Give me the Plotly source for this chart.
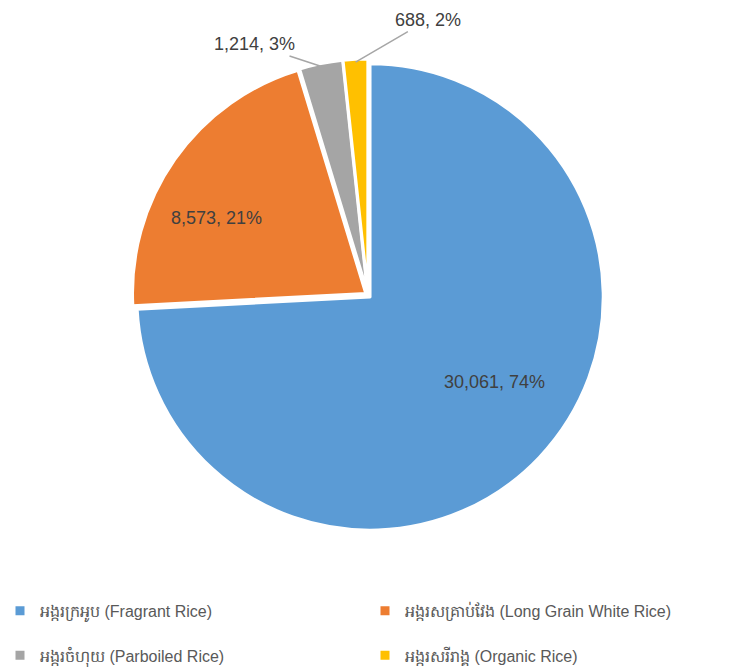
import math
import plotly.graph_objects as go

categories = [
    "អង្ករក្រអូប (Fragrant Rice)",
    "អង្ករសគ្រាប់វែង (Long Grain White Rice)",
    "អង្ករចំហុយ (Parboiled Rice)",
    "អង្ករសរីរាង្គ (Organic Rice)",
]
values = [30061, 8573, 1214, 688]
colors = ["#5B9BD5", "#ED7D31", "#A5A5A5", "#FFC000"]

W, H = 749, 671
CX, CY, R = 368, 295, 236  # pie placement in pixels

legend_labels = [c + ("<br> " if i < 2 else "") for i, c in enumerate(categories)]

fig = go.Figure(go.Pie(
    labels=legend_labels,
    values=values,
    sort=False,
    direction="clockwise",
    rotation=0,
    pull=[0.012] * len(values),
    marker=dict(colors=colors, line=dict(color="white", width=3)),
    textinfo="none",
    hoverinfo="label+value+percent",
    domain=dict(x=[(CX - R) / W, (CX + R) / W], y=[(H - CY - R) / H, (H - CY + R) / H]),
))

total = sum(values)
cum = 0
annotations = []
Rv = R / 1.012
inside_pos = {0: (0.66, math.radians(124.5)), 1: (0.73, math.radians(297))}
offsets = {2: (-67, -22), 3: (72, -42)}
for i, v in enumerate(values):
    mid = (cum + v / 2) / total * 2 * math.pi
    cum += v
    pct = round(v / total * 100)
    txt = f"{v:,}, {pct}%"
    if i < 2:
        frac, ang = inside_pos[i]
        rr = frac * Rv
        px = CX + rr * math.sin(ang)
        py = CY - rr * math.cos(ang)
        annotations.append(dict(x=px / W, y=1 - py / H, xref="paper", yref="paper",
                                xanchor="center", yanchor="middle",
                                text=txt, showarrow=False,
                                font=dict(size=18, color="#404040")))
    else:
        px = CX + Rv * math.sin(mid)
        py = CY - Rv * math.cos(mid)
        ax, ay = offsets[i]
        annotations.append(dict(x=px / W, y=1 - py / H, xref="paper", yref="paper",
                                text=txt, showarrow=True, arrowhead=0, arrowwidth=1.5,
                                arrowcolor="#A6A6A6", ax=ax, ay=ay,
                                font=dict(size=18, color="#404040")))

fig.update_layout(
    width=W, height=H,
    margin=dict(l=0, r=0, t=0, b=0, autoexpand=False),
    paper_bgcolor="white",
    font=dict(family="Liberation Sans, Noto Sans, sans-serif", color="#595959"),
    annotations=annotations,
    showlegend=True,
    legend=dict(
        orientation="h",
        x=0.0, y=0.115, xanchor="left", yanchor="top",
        entrywidth=320, entrywidthmode="pixels", valign="top",
        font=dict(size=16, color="#595959"), itemwidth=30,
    ),
)

fig.write_html("out.html", config={"displayModeBar": False},
               post_script="document.body.style.margin='0';")
